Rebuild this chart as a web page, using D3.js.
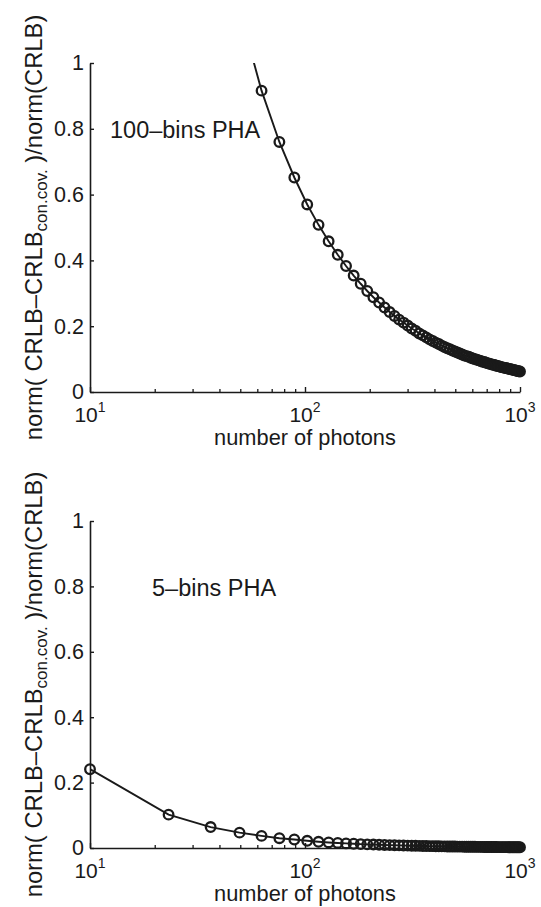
<!DOCTYPE html>
<html>
<head>
<meta charset="utf-8">
<script src="https://cdn.jsdelivr.net/npm/d3@7/dist/d3.min.js"></script>
<style>
  html, body { margin: 0; padding: 0; background: #fff; }
  svg { display: block; }
  text { font-family: "Liberation Sans", Arial, Helvetica, sans-serif; fill: #1a1a1a; }
</style>
</head>
<body>
<svg id="chart" width="541" height="907"></svg>
<script>
// ---- data ----
const photons = [10, 23.2, 36.4, 49.6, 62.8, 76, 89.2, 102.4, 115.6, 128.8,
  142, 155.2, 168.4, 181.6, 194.8, 208, 221.2, 234.4, 247.6, 260.8,
  274, 287.2, 300.4, 313.6, 326.8, 340, 353.2, 366.4, 379.6, 392.8,
  406, 419.2, 432.4, 445.6, 458.8, 472, 485.2, 498.4, 511.6, 524.8,
  538, 551.2, 564.4, 577.6, 590.8, 604, 617.2, 630.4, 643.6, 656.8,
  670, 683.2, 696.4, 709.6, 722.8, 736, 749.2, 762.4, 775.6, 788.8,
  802, 815.2, 828.4, 841.6, 854.8, 868, 881.2, 894.4, 907.6, 920.8,
  934, 947.2, 960.4, 973.6, 986.8, 1000];

const ratio100bins = [5.5, 2.45, 1.57, 1.16, 0.916, 0.760, 0.652, 0.570, 0.508, 0.458,
  0.417, 0.383, 0.354, 0.329, 0.307, 0.288, 0.272, 0.257, 0.243, 0.231,
  0.220, 0.211, 0.202, 0.193, 0.186, 0.178, 0.172, 0.166, 0.160, 0.155,
  0.150, 0.146, 0.141, 0.137, 0.133, 0.130, 0.126, 0.123, 0.120, 0.117,
  0.114, 0.111, 0.109, 0.107, 0.104, 0.102, 0.100, 0.098, 0.096, 0.094,
  0.092, 0.091, 0.089, 0.087, 0.086, 0.084, 0.083, 0.082, 0.080, 0.079,
  0.078, 0.076, 0.075, 0.074, 0.073, 0.072, 0.071, 0.070, 0.069, 0.068,
  0.067, 0.066, 0.065, 0.064, 0.063, 0.0625];

const ratio5bins = [0.241, 0.102, 0.064, 0.047, 0.037, 0.030, 0.026, 0.022, 0.019, 0.017,
  0.0155, 0.014, 0.013, 0.012, 0.011, 0.0105, 0.0099, 0.0093, 0.0088, 0.0084,
  0.0080, 0.0076, 0.0073, 0.0070, 0.0067, 0.0065, 0.0062, 0.0060, 0.0058, 0.0056,
  0.0054, 0.0052, 0.0051, 0.0049, 0.0048, 0.0046, 0.0045, 0.0044, 0.0043, 0.0042,
  0.0041, 0.0040, 0.0039, 0.0038, 0.0037, 0.0036, 0.0036, 0.0035, 0.0034, 0.0034,
  0.0033, 0.0032, 0.0032, 0.0031, 0.0031, 0.0030, 0.0030, 0.0029, 0.0029, 0.0028,
  0.0028, 0.0027, 0.0027, 0.0026, 0.0026, 0.0026, 0.0025, 0.0025, 0.0024, 0.0024,
  0.0024, 0.0023, 0.0023, 0.0023, 0.0022, 0.0022];

const yTicks = [0, 0.2, 0.4, 0.6, 0.8, 1];
const yTickLabels = ["0", "0.2", "0.4", "0.6", "0.8", "1"];
const xMajorTicks = [10, 100, 1000];
const xMajorBase = ["10", "10", "10"];
const xMajorExp = ["1", "2", "3"];
const xMinorTicks = [20, 30, 40, 50, 60, 70, 80, 90, 200, 300, 400, 500, 600, 700, 800, 900];
const panelLabels = ["100\u2013bins PHA", "5\u2013bins PHA"];
const xLabel = "number of photons";

// ---- layout ----
const ink = "#1a1a1a";
const svg = d3.select("#chart");
const panels = [
  { series: ratio100bins, top: 63, bottom: 392, label: panelLabels[0], lx: 110, ly: 138 },
  { series: ratio5bins,   top: 521, bottom: 848, label: panelLabels[1], lx: 152, ly: 596 }
];
const left = 90, right = 520;

panels.forEach((p, pi) => {
  const x = d3.scaleLog().domain([10, 1000]).range([left, right]);
  const y = d3.scaleLinear().domain([0, 1]).range([p.bottom, p.top]);
  const g = svg.append("g");

  const clipId = "clip" + pi;
  svg.append("clipPath").attr("id", clipId)
    .append("rect").attr("x", left).attr("y", p.top)
    .attr("width", right - left).attr("height", p.bottom - p.top);

  // minor x ticks
  const xMinor = d3.axisBottom(x).tickValues(xMinorTicks).tickSizeInner(-3).tickSizeOuter(0).tickFormat("");
  g.append("g").attr("transform", `translate(0,${p.bottom})`).call(xMinor)
    .call(s => s.select(".domain").remove())
    .call(s => s.selectAll(".tick line").attr("stroke", ink).attr("stroke-width", 1.3));

  // major x ticks
  const xMajor = d3.axisBottom(x).tickValues(xMajorTicks).tickSizeInner(-5).tickSizeOuter(0).tickFormat("");
  g.append("g").attr("transform", `translate(0,${p.bottom})`).call(xMajor)
    .call(s => s.select(".domain").attr("stroke", ink).attr("stroke-width", 1.6))
    .call(s => s.selectAll(".tick line").attr("stroke", ink).attr("stroke-width", 1.4));

  // x tick labels 10^n
  xMajorTicks.forEach((v, i) => {
    const t = g.append("text").attr("x", x(v)).attr("y", p.bottom + 30)
      .attr("text-anchor", "middle").style("font-size", "21px");
    t.append("tspan").text(xMajorBase[i]);
    t.append("tspan").attr("dy", -10).style("font-size", "14px").text(xMajorExp[i]);
  });

  // y axis
  const yAxis = d3.axisLeft(y).tickValues(yTicks).tickSizeInner(-4).tickSizeOuter(0)
    .tickPadding(6).tickFormat((d, i) => yTickLabels[i]);
  g.append("g").attr("transform", `translate(${left},0)`).call(yAxis)
    .call(s => s.select(".domain").attr("stroke", ink).attr("stroke-width", 1.6))
    .call(s => s.selectAll(".tick line").attr("stroke", ink).attr("stroke-width", 1.4))
    .call(s => s.selectAll(".tick text").attr("fill", ink)
      .style("font-size", "21.5px").style("font-family", '"Liberation Sans", Arial, sans-serif'));

  // data
  const pts = photons.map((n, i) => ({ n, v: p.series[i] }));
  const line = d3.line().x(d => x(d.n)).y(d => y(d.v));
  g.append("path").datum(pts).attr("d", line)
    .attr("fill", "none").attr("stroke", ink).attr("stroke-width", 1.9)
    .attr("clip-path", `url(#${clipId})`);
  g.selectAll("circle.m").data(pts.filter(d => d.v <= 1)).enter()
    .append("circle").attr("class", "m")
    .attr("cx", d => x(d.n)).attr("cy", d => y(d.v)).attr("r", 4.8)
    .attr("fill", "none").attr("stroke", ink).attr("stroke-width", 2.3);

  // panel annotation
  g.append("text").attr("x", p.lx).attr("y", p.ly).style("font-size", "23.5px").text(p.label);

  // x label
  g.append("text").attr("x", (left + right) / 2).attr("y", p.bottom + 53)
    .attr("text-anchor", "middle").style("font-size", "21.8px").text(xLabel);

  // y label
  const cy = (p.top + p.bottom) / 2;
  const yl = g.append("text").attr("transform", `translate(42,${cy}) rotate(-90)`)
    .attr("text-anchor", "middle").style("font-size", "23.8px");
  yl.append("tspan").text("norm( CRLB\u2013CRLB");
  yl.append("tspan").attr("dy", 5).style("font-size", "17px").text("con.cov.");
  yl.append("tspan").attr("dy", -5).text(" )/norm(CRLB)");
});
</script>
</body>
</html>
